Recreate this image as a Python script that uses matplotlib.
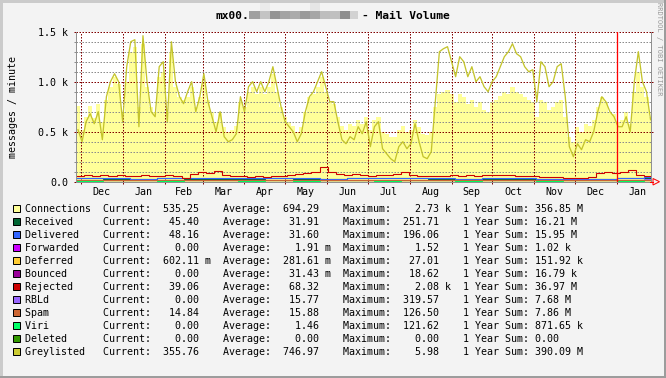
import numpy as np
import matplotlib
matplotlib.use("Agg")
import matplotlib.pyplot as plt
import matplotlib.dates as mdates
from matplotlib.patches import Rectangle, Polygon
from matplotlib.lines import Line2D
from datetime import datetime

W, H = 666, 378
MONO = "DejaVu Sans Mono"
PX = 0.72  # one pixel in points at 100 dpi

# ---- data ----
t_start = datetime(2006, 11, 27, 12)

# every 3 days
greylisted = [520, 400, 600, 680, 580, 700, 420, 850, 1000, 1080,
              1000, 600, 1150, 1400, 1420, 550, 1460, 1000, 700, 650,
              1150, 1200, 600, 1400, 1000, 850, 780, 900, 1000, 700,
              850, 1080, 800, 650, 500, 700, 450, 400, 420, 480,
              850, 700, 950, 1000, 900, 1000, 900, 1000, 1150, 950,
              750, 600, 550, 500, 400, 480, 700, 850, 900, 1000,
              1100, 950, 800, 800, 600, 420, 380, 450, 420, 550,
              480, 600, 350, 550, 600, 330, 280, 230, 200, 350,
              400, 330, 380, 580, 400, 250, 230, 300, 800, 1300,
              1330, 1350, 1200, 1050, 1250, 1200, 1050, 1150, 1000, 1050,
              950, 900, 1000, 1050, 1150, 1250, 1300, 1380, 1280, 1250,
              1150, 1100, 1120, 800, 1200, 1150, 950, 1000, 1150, 1180,
              850, 350, 250, 380, 320, 420, 400, 500, 700, 850,
              800, 700, 650, 550, 550, 650, 500, 1000, 1300, 1000,
              900, 620]
connections = [760, 520, 650, 760, 640, 780, 600, 820, 950, 1050,
               980, 700, 1000, 1300, 1350, 750, 1380, 950, 750, 700,
               1050, 1100, 700, 1300, 950, 850, 820, 850, 950, 750,
               850, 1000, 820, 700, 600, 700, 550, 500, 520, 560,
               800, 750, 900, 950, 880, 950, 880, 950, 1080, 900,
               750, 650, 600, 560, 500, 550, 700, 850, 880, 950,
               1050, 900, 800, 780, 650, 560, 520, 580, 560, 620,
               580, 650, 520, 620, 650, 500, 480, 450, 450, 520,
               560, 500, 520, 620, 550, 480, 470, 500, 750, 880,
               900, 920, 880, 800, 880, 850, 780, 820, 750, 800,
               720, 700, 800, 820, 860, 900, 880, 950, 900, 880,
               850, 820, 800, 650, 820, 800, 720, 750, 800, 820,
               650, 450, 400, 550, 500, 580, 560, 620, 750, 850,
               800, 700, 680, 600, 620, 700, 580, 900, 1100, 950,
               850, 650]

# every 6 days
rejected = [60, 62, 58, 65, 60, 63, 60, 58, 62, 58,
            60, 62, 58, 40, 80, 95, 90, 110, 70, 55,
            52, 50, 52, 50, 55, 60, 65, 75, 85, 95,
            150, 95, 80, 70, 75, 65, 60, 65, 70, 75,
            95, 65, 60, 55, 55, 60, 65, 60, 62, 60,
            65, 62, 65, 62, 60, 58, 55, 50, 45, 45,
            40, 35, 40, 45, 90, 100, 85, 95, 120, 70,
            60]

# every 20 days
received = [32, 30, 28, 33, 30, 29, 31, 35, 30, 28, 34, 38, 33, 30, 29, 31, 30, 28, 27, 29, 33, 40]
delivered = [35, 33, 31, 36, 33, 32, 34, 38, 33, 31, 37, 40, 35, 32, 31, 33, 32, 30, 29, 31, 36, 48]
spam = [16, 15, 14, 17, 15, 14, 16, 18, 15, 14, 17, 18, 16, 15, 14, 15, 15, 14, 13, 14, 16, 20]
rbld = [18, 17, 15, 19, 16, 15, 17, 20, 16, 15, 18, 20, 17, 16, 15, 16, 16, 14, 13, 15, 18, 22]
viri = [2, 1, 1, 2, 1, 1, 2, 1, 2, 1, 1, 2, 1, 1, 2, 1, 1, 2, 1, 1, 2, 1]
deferred = [0.3, 0.2, 0.3, 0.4, 0.2, 0.3, 0.2, 0.3, 0.4, 0.3, 0.2, 0.3, 0.3, 0.2, 0.3, 0.4, 0.2, 0.3, 0.2, 0.3, 0.4, 0.6]
forwarded = [0, 0, 0, 0, 0, 0, 0, 0, 0, 0, 0, 0, 0, 0, 0, 0, 0, 0, 0, 0, 0, 0]
bounced = [0, 0, 0, 0, 0, 0, 0, 0, 0, 0, 0, 0, 0, 0, 0, 0, 0, 0, 0, 0, 0, 0]
deleted = [0, 0, 0, 0, 0, 0, 0, 0, 0, 0, 0, 0, 0, 0, 0, 0, 0, 0, 0, 0, 0, 0]

names = ["Connections", "Received", "Delivered", "Forwarded", "Deferred", "Bounced",
         "Rejected", "RBLd", "Spam", "Viri", "Deleted", "Greylisted"]
colors = ["#FFFF99", "#006633", "#3366FF", "#CC00FF", "#FFCC33", "#990099",
          "#CC0000", "#9966FF", "#CC6633", "#00FF66", "#339900", "#CCCC33"]
cur_val = [535.25, 45.40, 48.16, 0.00, 602.11, 0.00, 39.06, 0.00, 14.84, 0.00, 0.00, 355.76]
cur_unit = ["", "", "", "", "m", "", "", "", "", "", "", ""]
avg_val = [694.29, 31.91, 31.60, 1.91, 281.61, 31.43, 68.32, 15.77, 15.88, 1.46, 0.00, 746.97]
avg_unit = ["", "", "", "m", "m", "m", "", "", "", "", "", ""]
max_val = [2.73, 251.71, 196.06, 1.52, 27.01, 18.62, 2.08, 319.57, 126.50, 121.62, 0.00, 5.98]
max_unit = ["k", "", "", "", "", "", "k", "", "", "", "", ""]
sum_val = [356.85, 16.21, 15.95, 1.02, 151.92, 16.79, 36.97, 7.68, 7.86, 871.65, 0.00, 390.09]
sum_unit = ["M", "M", "M", "k", "k", "k", "M", "M", "M", "k", "", "M"]

y_ticks = [0, 500, 1000, 1500]
y_tick_labels = ["0.0", "0.5 k", "1.0 k", "1.5 k"]


def fx(x):
    return x / W


def fy(y):
    return 1 - y / H


fig = plt.figure(figsize=(W / 100, H / 100), dpi=100, facecolor="#F3F3F3")

# 3d border
fig.add_artist(Rectangle((0, fy(2.5)), 1, 2.5 / H, transform=fig.transFigure, color="#CBCBCB", lw=0))
fig.add_artist(Rectangle((0, 0), 2.5 / W, 1, transform=fig.transFigure, color="#CBCBCB", lw=0))
fig.add_artist(Rectangle((0, 0), 1, 2.5 / H, transform=fig.transFigure, color="#9C9C9C", lw=0))
fig.add_artist(Rectangle((fx(663.5), 0), 2.5 / W, 1, transform=fig.transFigure, color="#9C9C9C", lw=0))

ax = fig.add_axes([fx(75.5), fy(181.7), 575.5 / W, 150 / H])
ax.set_facecolor("white")

t0 = mdates.date2num(t_start)
dec1 = mdates.date2num(datetime(2006, 12, 1))
jan1 = mdates.date2num(datetime(2008, 1, 1))
ax.set_xlim(dec1 - 3.84, jan1 + 25.34)
ax.set_ylim(0, 1500)


def edges(n, step):
    return t0 + step * np.arange(n + 1)


def centers(n, step):
    return t0 + step * (np.arange(n) + 0.5)


ax.stairs(connections, edges(len(connections), 3), fill=True, color=colors[0], lw=0, zorder=1)

# grid
for v in range(100, 1500, 100):
    if v % 500:
        ax.axhline(v, color="#8C8C8C", lw=PX, ls=(0, (1.5, 1.5)), zorder=1.5)
for v in (500, 1000, 1500):
    ax.axhline(v, color="#800000", lw=PX, ls=(0, (1.5, 1.5)), zorder=1.5)

months = []
y, m = 2006, 12
while (y, m) <= (2008, 1):
    months.append(datetime(y, m, 1))
    y, m = (y + 1, 1) if m == 12 else (y, m + 1)
month_x = [mdates.date2num(d) for d in months]
for mx in month_x:
    ax.axvline(mx, color="#800000", lw=PX, ls=(0, (1.5, 1.5)), zorder=1.5)

series = [(received, 20, 1), (delivered, 20, 2), (forwarded, 20, 3), (deferred, 20, 4),
          (bounced, 20, 5), (rejected, 6, 6), (rbld, 20, 7), (spam, 20, 8),
          (viri, 20, 9), (deleted, 20, 10)]
for vals, step, ci in series:
    e = edges(len(vals), step)
    ax.stairs(vals, e, baseline=None, color=colors[ci], lw=PX * 1.1, zorder=2)

ax.plot(centers(len(greylisted), 3), greylisted, color="#C4C42C", lw=PX * 1.3, zorder=2.2)

ax.axvline(jan1, color="#FF0000", lw=PX * 1.3, zorder=3)

# spines / ticks
ax.spines["top"].set_visible(False)
for s in ("left", "right", "bottom"):
    ax.spines[s].set_color("#909090")
    ax.spines[s].set_linewidth(PX)
ax.set_yticks(y_ticks)
ax.set_yticks([v for v in range(100, 1500, 100) if v % 500], minor=True)
ax.set_xticks(month_x)
ax.tick_params(which="major", axis="y", left=True, right=True, length=2 * PX, width=PX,
               color="#800000", labelleft=False)
ax.tick_params(which="minor", axis="y", left=True, right=False, length=2 * PX, width=PX,
               color="#8C8C8C")
ax.tick_params(axis="x", length=2 * PX, width=PX, color="#800000", labelbottom=False)

# y tick labels
for v, lab in zip(y_ticks, y_tick_labels):
    ypx = 181.7 - v / 10
    fig.text(fx(68.5), fy(ypx + 4.2), lab, ha="right", va="baseline",
             fontsize=7.2, family=MONO)

# month labels
x_lo, x_hi = ax.get_xlim()
for k, d0 in enumerate(months):
    x0 = month_x[k]
    nxt = month_x[k + 1] if k + 1 < len(month_x) else x0 + 31
    xm = (x0 + nxt) / 2
    xp = 75.5 + (xm - x_lo) / (x_hi - x_lo) * 575.5
    fig.text(fx(xp), fy(194.6), d0.strftime("%b"), ha="center", va="baseline",
             fontsize=7.2, family=MONO)

# x axis arrow
fig.add_artist(Line2D([fx(650), fx(653)], [fy(181.7), fy(181.7)], color="#FF0000", lw=PX))
fig.add_artist(Polygon([(fx(653), fy(178.5)), (fx(659.5), fy(181.7)), (fx(653), fy(185))],
                       closed=True, fill=False, edgecolor="#FF0000", lw=PX))

# title with pixelated host name
fig.text(fx(215), fy(19), "mx00.", ha="left", va="baseline", fontsize=8.1,
         family=MONO, weight="bold")
fig.text(fx(362), fy(19), "- Mail Volume", ha="left", va="baseline", fontsize=8.1,
         family=MONO, weight="bold")
blocks = ["#A0A0A0", "#C4C4C4", "#949494", "#A4A4A4", "#ABABAB", "#9A9A9A",
          "#A6A6A6", "#BEBEBE", "#C0C0C0", "#8E8E8E", "#D2D2D2"]
bx = 249.3
for i, c in enumerate(blocks):
    wdt = 10.7 if i == 0 else (7.7 if i == len(blocks) - 1 else 10)
    fig.add_artist(Rectangle((fx(bx), fy(19)), wdt / W, 8 / H, transform=fig.transFigure,
                             color=c, lw=0))
    bx += wdt
for xb, c in ((260, "#EBEBEB"), (310, "#E6E6E6")):
    fig.add_artist(Rectangle((fx(xb), fy(11)), 10 / W, 8 / H, transform=fig.transFigure,
                             color=c, lw=0))

fig.text(fx(13), fy(107), "messages / minute", rotation=90, ha="center", va="center",
         fontsize=7.2, family=MONO)
fig.text(fx(658.5), fy(48.5), "RRDTOOL / TOBI OETIKER", rotation=270, ha="center",
         va="center", fontsize=5.0, family=MONO, color="#999999")

# legend
for i, name in enumerate(names):
    base = 212 + 13 * i
    fig.add_artist(Rectangle((fx(12.5), fy(base)), 7.5 / W, 7.5 / H, transform=fig.transFigure,
                             facecolor=colors[i], edgecolor="black", lw=PX))
    row = (f"{name:<13}Current:{cur_val[i]:>8.2f} {cur_unit[i]:1}  "
           f"Average:{avg_val[i]:>8.2f} {avg_unit[i]:1}  "
           f"Maximum:{max_val[i]:>8.2f} {max_unit[i]:1}  "
           f"1 Year Sum: {sum_val[i]:.2f} {sum_unit[i]}").rstrip()
    fig.text(fx(25), fy(base), row, ha="left", va="baseline", fontsize=7.2, family=MONO)

fig.savefig("out.png", dpi=100, facecolor=fig.get_facecolor())
